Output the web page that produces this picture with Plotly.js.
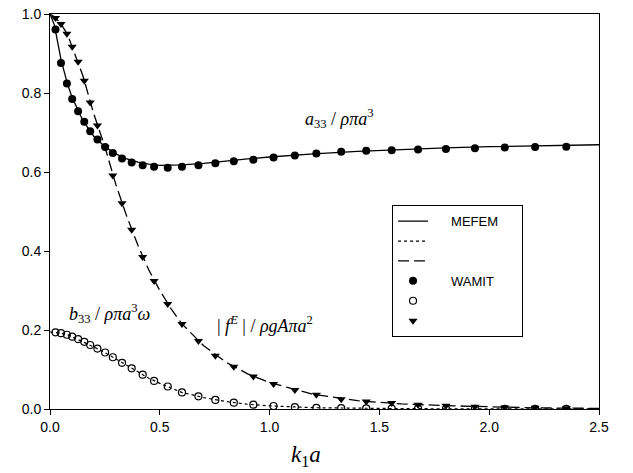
<!DOCTYPE html>
<html>
<head>
<meta charset="utf-8">
<script src="https://cdn.plot.ly/plotly-3.0.1.min.js"></script>
<style>html,body{margin:0;padding:0;background:#fff}#chart{width:633px;height:473px}</style>
</head>
<body>
<div id="chart"></div>
<script>
// MEFEM curves
const mefemK = [0,0.02,0.05,0.08,0.1,0.15,0.2,0.25,0.3,0.35,0.4,0.45,0.5,0.55,0.6,0.7,0.8,0.9,1.0,1.2,1.4,1.6,1.8,2.0,2.2,2.5];
const mefemA33 = [1.0,0.972,0.885,0.822,0.79,0.73,0.69,0.664,0.646,0.633,0.625,0.62,0.617,0.617,0.618,0.622,0.628,0.633,0.638,0.646,0.652,0.657,0.661,0.664,0.666,0.669];
const mefemB33 = [0.195,0.194,0.192,0.188,0.183,0.171,0.157,0.143,0.127,0.110,0.094,0.078,0.065,0.054,0.042,0.029,0.019,0.012,0.008,0.0033,0.0017,0.001,0.0005,0.0003,0.0002,0.0001];
const mefemFE = [1.0,0.993,0.975,0.948,0.918,0.843,0.746,0.664,0.568,0.487,0.415,0.352,0.300,0.255,0.216,0.160,0.119,0.089,0.067,0.037,0.021,0.013,0.0085,0.005,0.003,0.0015];

// WAMIT points
const wamitK = [0.025,0.05,0.077,0.101,0.128,0.156,0.183,0.216,0.251,0.286,0.328,0.372,0.422,0.474,0.536,0.601,0.676,0.753,0.837,0.926,1.018,1.115,1.213,1.326,1.44,1.556,1.676,1.803,1.935,2.071,2.209,2.351];
const wamitA33 = [0.961,0.876,0.824,0.785,0.754,0.727,0.703,0.682,0.663,0.648,0.634,0.624,0.617,0.613,0.611,0.613,0.617,0.622,0.627,0.631,0.637,0.642,0.647,0.651,0.654,0.655,0.657,0.658,0.660,0.662,0.663,0.664];
const wamitB33 = [0.194,0.192,0.188,0.183,0.177,0.170,0.162,0.153,0.143,0.131,0.117,0.103,0.087,0.071,0.057,0.042,0.032,0.023,0.016,0.011,0.0076,0.005,0.003,0.002,0.0015,0.001,0.0008,0.0005,0.0004,0.0003,0.0002,0.0001];
const wamitFE = [0.99,0.975,0.95,0.917,0.879,0.831,0.776,0.718,0.662,0.591,0.521,0.454,0.385,0.324,0.266,0.215,0.172,0.135,0.107,0.082,0.063,0.048,0.036,0.025,0.019,0.015,0.011,0.0085,0.006,0.004,0.003,0.002];

const xTicks = [0,0.5,1.0,1.5,2.0,2.5];
const yTicks = [0,0.2,0.4,0.6,0.8,1.0];

const NB = '\u00a0';
const pre = NB.repeat(5);
const post = NB.repeat(5);
const traces = [
  {x: mefemK, y: mefemA33, mode: 'lines', name: pre + 'MEFEM' + post, line: {color: '#000', width: 1.3}},
  {x: mefemK, y: mefemB33, mode: 'lines', name: NB, line: {color: '#000', width: 1.2, dash: 'dot'}},
  {x: mefemK, y: mefemFE, mode: 'lines', name: NB, line: {color: '#000', width: 1.3, dash: '11px,5px'}},
  {x: wamitK, y: wamitA33, mode: 'markers', name: pre + 'WAMIT', marker: {symbol: 'circle', size: 8, color: '#000'}},
  {x: wamitK, y: wamitB33, mode: 'markers', name: NB, marker: {symbol: 'circle-open', size: 7, color: '#000', line: {width: 1.2, color: '#000'}}},
  {x: wamitK, y: wamitFE, mode: 'markers', name: NB, marker: {symbol: 'triangle-down', size: 8, color: '#000'}}
];

const serif = 'Liberation Serif, Times New Roman, serif';
const layout = {
  width: 633, height: 473,
  margin: {l: 50, r: 34, t: 14, b: 64},
  paper_bgcolor: '#fff', plot_bgcolor: '#fff',
  font: {family: 'Liberation Sans, Arial, sans-serif', size: 14, color: '#000'},
  showlegend: true,
  legend: {
    x: 0.623, y: 0.516, xanchor: 'left', yanchor: 'top',
    bgcolor: '#fff', bordercolor: '#000', borderwidth: 1,
    font: {family: 'Liberation Sans, Arial, sans-serif', size: 13, color: '#000'},
    tracegroupgap: 0
  },
  xaxis: {
    range: [0, 2.5], tickvals: xTicks, ticktext: xTicks.map(v => v.toFixed(1)),
    showgrid: false, zeroline: false, showline: true, mirror: true, linecolor: '#000', linewidth: 1,
    ticks: 'outside', ticklen: 5, tickcolor: '#000', tickfont: {size: 14}
  },
  yaxis: {
    range: [0, 1.0], tickvals: yTicks, ticktext: yTicks.map(v => v.toFixed(1)),
    showgrid: false, zeroline: false, showline: true, mirror: true, linecolor: '#000', linewidth: 1,
    ticks: 'outside', ticklen: 5, tickcolor: '#000', tickfont: {size: 14}
  },
  annotations: [
    {xref: 'paper', yref: 'paper', x: 0.466, y: -0.118, xanchor: 'center', yanchor: 'middle', showarrow: false,
     text: '<i>k</i><sub>1</sub><i>a</i>', font: {family: serif, size: 23, color: '#000'}},
    {xref: 'paper', yref: 'paper', x: 0.461, y: 0.735, xanchor: 'left', yanchor: 'middle', showarrow: false,
     text: '<i>a</i><sub>33</sub> / <i>ρπa</i><sup>3</sup>', font: {family: serif, size: 18, color: '#000'}},
    {xref: 'paper', yref: 'paper', x: 0.031, y: 0.243, xanchor: 'left', yanchor: 'middle', showarrow: false,
     text: '<i>b</i><sub>33</sub> / <i>ρπa</i><sup>3</sup><i>ω</i>', font: {family: serif, size: 18, color: '#000'}},
    {xref: 'paper', yref: 'paper', x: 0.3, y: 0.214, xanchor: 'left', yanchor: 'middle', showarrow: false,
     text: '| <i>f</i><sup><i>E</i></sup> | / <i>ρgAπa</i><sup>2</sup>', font: {family: serif, size: 18, color: '#000'}}
  ]
};

Plotly.newPlot('chart', traces, layout, {displayModeBar: false, staticPlot: true});
</script>
</body>
</html>
